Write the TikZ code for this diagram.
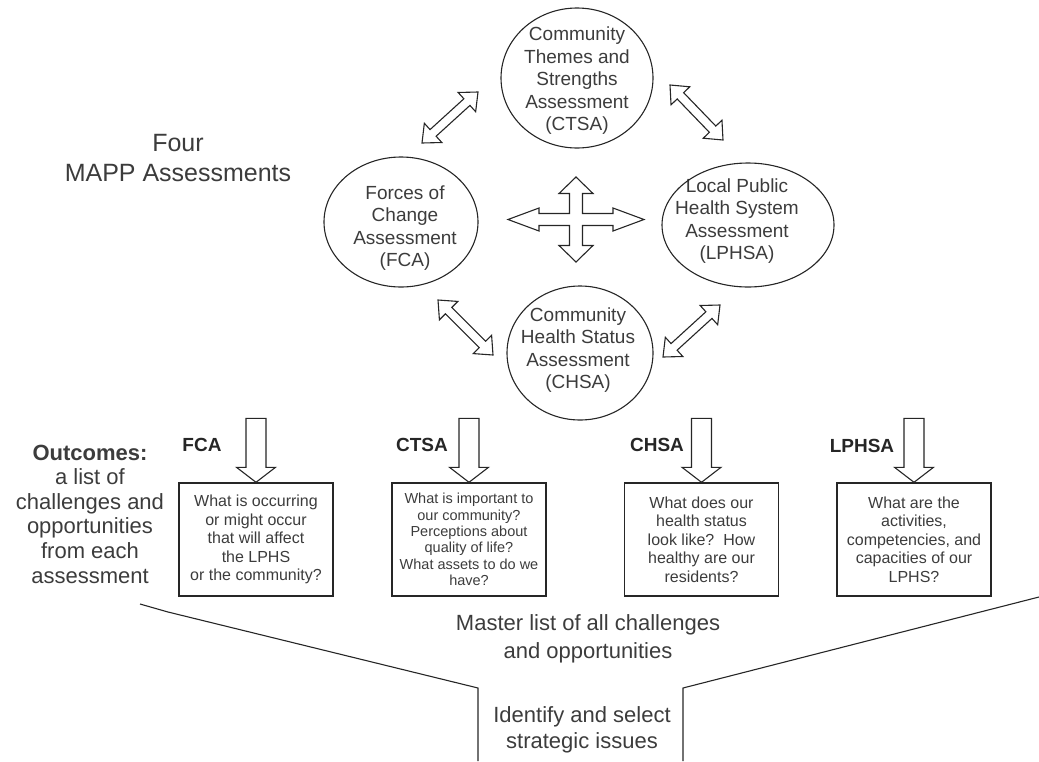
\documentclass[tikz,border=0pt]{standalone}
\usepackage{fontspec}
\setmainfont{Liberation Sans}
\usetikzlibrary{calc}
\definecolor{ink}{HTML}{3C3C3C}
\definecolor{rule}{HTML}{262626}

% hollow double arrow between two points
\newcommand{\dblarrow}[2]{%
  \draw[hollow] (#1)
    -- ($(#1)!15pt!(#2)!13pt!90:(#2)$) -- ($(#1)!15pt!(#2)!4.5pt!90:(#2)$)
    -- ($(#2)!15pt!(#1)!4.5pt!-90:(#1)$) -- ($(#2)!15pt!(#1)!13pt!-90:(#1)$)
    -- (#2)
    -- ($(#2)!15pt!(#1)!13pt!90:(#1)$) -- ($(#2)!15pt!(#1)!4.5pt!90:(#1)$)
    -- ($(#1)!15pt!(#2)!4.5pt!-90:(#2)$) -- ($(#1)!15pt!(#2)!13pt!-90:(#2)$)
    -- cycle;}
% hollow arrow pointing down onto a box
\newcommand{\outarrow}[1]{%
  \draw[hollow] (#1.north) -- ++(-19.5,-15) -- ++(9.5,0) -- ++(0,-49)
    -- ++(20,0) -- ++(0,49) -- ++(9.5,0) -- cycle;}

\begin{document}
\begin{tikzpicture}[x=1pt,y=-1pt,
  ring/.style={draw=rule,line width=1.1pt},
  assess/.style={text=ink,align=center,inner sep=0pt,font=\fontsize{19}{22.5}\selectfont},
  qbox/.style={draw=rule,line width=1.4pt,minimum width=154pt,minimum height=113pt,
    align=center,text=ink,inner sep=2pt,font=\fontsize{16}{18.6}\selectfont},
  tag/.style={text=rule,font=\fontsize{19}{22}\selectfont\bfseries},
  hollow/.style={draw=rule,line width=1.1pt,fill=white,line join=miter},
  big/.style={text=ink,align=center}]
\useasboundingbox (0,0) rectangle (1039,761);

% the four assessments
\node[assess] (ctsa) at (577,81) {Community\\Themes and\\Strengths\\Assessment\\(CTSA)};
\node[assess] (fca) at (405,228) {Forces of\\Change\\Assessment\\(FCA)};
\node[assess] (lphsa) at (737,221) {Local Public\\Health System\\Assessment\\(LPHSA)};
\node[assess] (chsa) at (578,350) {Community\\Health Status\\Assessment\\(CHSA)};
\draw[ring] (577,78) ellipse [x radius=76,y radius=70];
\draw[ring] (401,222) ellipse [x radius=77,y radius=65];
\draw[ring] (748,225) ellipse [x radius=86,y radius=62];
\draw[ring] (580,353) ellipse [x radius=73,y radius=67];

\node[big,font=\fontsize{25}{30}\selectfont] (four) at (178,158) {Four\\MAPP Assessments};

% links between assessments
\coordinate (a1) at (422,143); \coordinate (b1) at (478,92);
\coordinate (a2) at (670,85);  \coordinate (b2) at (723,140);
\coordinate (a3) at (438,300); \coordinate (b3) at (493,355);
\coordinate (a4) at (663,357); \coordinate (b4) at (720,305);
\dblarrow{a1}{b1}
\dblarrow{a2}{b2}
\dblarrow{a3}{b3}
\dblarrow{a4}{b4}

\coordinate (hub) at (576,219.5);
\draw[hollow,shift={(hub)}] (68,0) -- (37,11.5) -- (37,6) -- (6.5,6) -- (6.5,26)
  -- (17,26) -- (0,42.5) -- (-17,26) -- (-6.5,26) -- (-6.5,6) -- (-37,6)
  -- (-37,11.5) -- (-68,0) -- (-37,-11.5) -- (-37,-6) -- (-6.5,-6) -- (-6.5,-26)
  -- (-17,-26) -- (0,-42.5) -- (17,-26) -- (6.5,-26) -- (6.5,-6) -- (37,-6)
  -- (37,-11.5) -- cycle;

% outcomes
\node[big,font=\fontsize{22}{24.6}\selectfont] (outc) at (90,514)
  {\textbf{Outcomes:}\\a list of\\challenges and\\opportunities\\from each\\assessment};

\node[qbox] (qfca) at (256,539.5) {What is occurring\\or might occur\\that will affect\\the LPHS\\or the community?};
\node[qbox,font=\fontsize{14.5}{16.4}\selectfont] (qctsa) at (469,539.5)
  {What is important to\\our community?\\Perceptions about\\quality of life?\\What assets to do we\\have?};
\node[qbox] (qchsa) at (701.5,539.5) {What does our\\health status\\look like?~~How\\healthy are our\\residents?};
\node[qbox] (qlphsa) at (914,539.5) {What are the\\activities,\\competencies, and\\capacities of our\\LPHS?};

\outarrow{qfca}
\outarrow{qctsa}
\outarrow{qchsa}
\outarrow{qlphsa}

\node[tag] (tfca) at (202,445) {FCA};
\node[tag] (tctsa) at (422,445) {CTSA};
\node[tag] (tchsa) at (657,445) {CHSA};
\node[tag] (tlphsa) at (862,446) {LPHSA};

% funnel
\draw[rule,line width=1.1pt] (140,604) -- (168,612) -- (478,688) -- (478,761);
\draw[rule,line width=1.1pt] (683,761) -- (683,688) -- (1039,597);

\node[big,font=\fontsize{22}{28}\selectfont] (master) at (588,639)
  {Master list of all challenges\\and opportunities};
\node[big,font=\fontsize{22}{26}\selectfont] (issues) at (582,730)
  {Identify and select\\strategic issues};
\end{tikzpicture}
\end{document}
